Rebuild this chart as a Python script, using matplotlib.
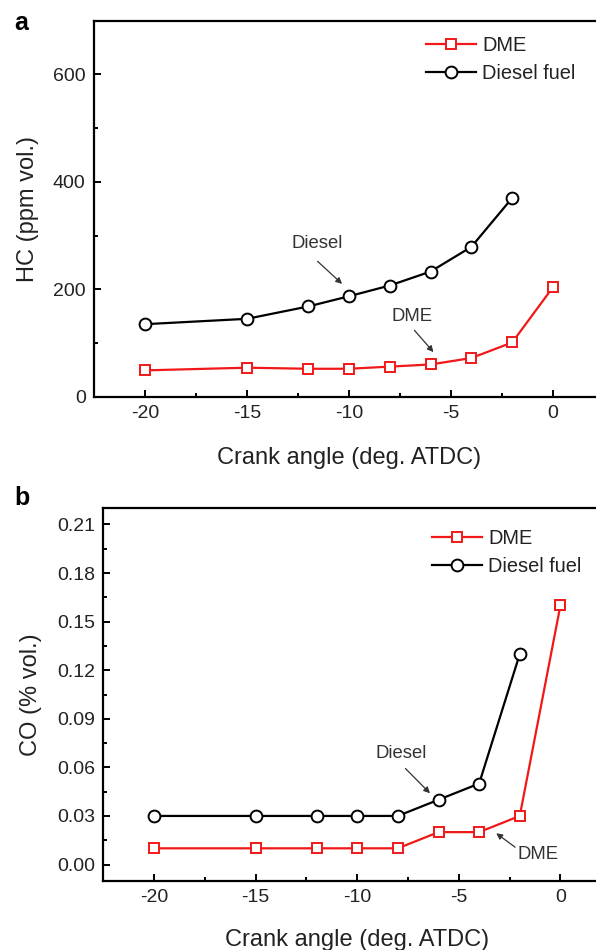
import matplotlib
matplotlib.use("Agg")
import matplotlib.pyplot as plt
from matplotlib.ticker import MultipleLocator, FormatStrFormatter

plt.rcParams['font.family'] = ['Liberation Sans', 'DejaVu Sans']
plt.rcParams['axes.unicode_minus'] = False

# ---- data ----
crank_angle_diesel = [-20, -15, -12, -10, -8, -6, -4, -2]
crank_angle_dme = [-20, -15, -12, -10, -8, -6, -4, -2, 0]

hc_diesel = [135, 145, 168, 187, 207, 233, 279, 370]
hc_dme = [49, 54, 52, 52, 56, 60, 72, 101, 204]

co_diesel = [0.03, 0.03, 0.03, 0.03, 0.03, 0.04, 0.05, 0.13]
co_dme = [0.01, 0.01, 0.01, 0.01, 0.01, 0.02, 0.02, 0.03, 0.16]

series_labels = ["DME", "Diesel fuel"]
xlabel = "Crank angle (deg. ATDC)"
ylabel_a = "HC (ppm vol.)"
ylabel_b = "CO (% vol.)"

W, H = 596, 950
fig = plt.figure(figsize=(W / 100, H / 100), dpi=100)

TXT = '#222222'
RED = '#f01818'


def px_axes(l, t, r, b):
    return fig.add_axes([l / W, 1 - b / H, (r - l) / W, (b - t) / H])


def style(ax, xlabelpad):
    for s in ax.spines.values():
        s.set_linewidth(1.6)
        s.set_color('black')
    ax.tick_params(which='both', direction='in', colors='black', labelcolor=TXT,
                   labelsize=14, width=1.4, pad=6)
    ax.tick_params(which='major', length=5)
    ax.tick_params(which='minor', length=3)
    ax.xaxis.set_major_locator(MultipleLocator(5))
    ax.xaxis.set_minor_locator(MultipleLocator(2.5))
    ax.set_xlim(-22.5, 2.5)
    ax.set_xlabel(xlabel, fontsize=17, color=TXT, labelpad=xlabelpad)


def plot_series(ax, ydme, ydiesel):
    ax.plot(crank_angle_dme, ydme, color=RED, lw=1.6, marker='s', ms=7.5,
            mfc='white', mec=RED, mew=1.4, label=series_labels[0], zorder=3)
    ax.plot(crank_angle_diesel, ydiesel, color='black', lw=1.6, marker='o', ms=8.5,
            mfc='white', mec='black', mew=1.4, label=series_labels[1], zorder=3)


def annotate(ax, text, xy, xytext, tail):
    ax.text(xytext[0], xytext[1], text, fontsize=13.3, color='#333333',
            ha='center', va='center')
    ax.annotate('', xy=xy, xytext=tail,
                arrowprops=dict(arrowstyle='-|>', color='#333333', lw=0.9,
                                mutation_scale=9, shrinkA=0, shrinkB=0))


def legend(ax, x, y):
    ax.legend(loc='upper left', bbox_to_anchor=(x / W, 1 - y / H),
              bbox_transform=fig.transFigure, frameon=False, fontsize=14.4,
              handlelength=2.5, handletextpad=0.3, labelspacing=0.45,
              borderpad=0, borderaxespad=0, labelcolor=TXT)


# ---- panel a ----
ax1 = px_axes(94, 20.7, 604, 396.7)
plot_series(ax1, hc_dme, hc_diesel)
style(ax1, 18)
ax1.set_ylim(0, 700)
ax1.yaxis.set_major_locator(MultipleLocator(200))
ax1.yaxis.set_minor_locator(MultipleLocator(100))
ax1.set_ylabel(ylabel_a, fontsize=17, color=TXT, labelpad=10)
annotate(ax1, "Diesel", (-10.34, 210), (-11.58, 286), (-11.54, 252))
annotate(ax1, "DME", (-5.86, 83), (-6.89, 149), (-6.79, 123.5))
legend(ax1, 426, 36)
fig.text(21.5 / W, 1 - 22.5 / H, "a", fontsize=18, fontweight='bold',
         ha='center', va='center', color='black')

# ---- panel b ----
ax2 = px_axes(103.3, 508.3, 611.2, 880.7)
plot_series(ax2, co_dme, co_diesel)
style(ax2, 16.5)
ax2.set_ylim(-0.01, 0.22)
ax2.yaxis.set_major_locator(MultipleLocator(0.03))
ax2.yaxis.set_minor_locator(MultipleLocator(0.015))
ax2.yaxis.set_major_formatter(FormatStrFormatter('%.2f'))
ax2.set_ylabel(ylabel_b, fontsize=17, color=TXT, labelpad=11)
annotate(ax2, "Diesel", (-6.42, 0.044), (-7.86, 0.0686), (-7.63, 0.0593))
annotate(ax2, "DME", (-3.16, 0.0193), (-1.1, 0.0062), (-2.23, 0.0107))
legend(ax2, 432, 528.5)
fig.text(22 / W, 1 - 498 / H, "b", fontsize=18, fontweight='bold',
         ha='center', va='center', color='black')

fig.savefig("out.png", dpi=100)
